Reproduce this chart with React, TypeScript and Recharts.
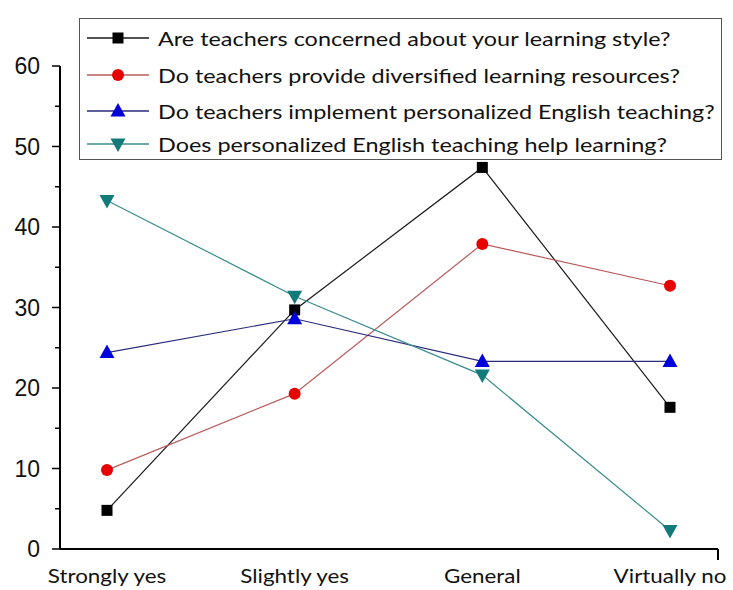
import { LineChart, Line, XAxis, YAxis } from "recharts";

const categories = ["Strongly yes", "Slightly yes", "General", "Virtually no"];
const concernedStyle = [4.8, 29.7, 47.4, 17.6];
const diversifiedResources = [9.8, 19.3, 37.9, 32.7];
const implementPersonalized = [24.4, 28.6, 23.3, 23.3];
const personalizedHelps = [43.3, 31.4, 21.6, 2.3];
const yTicks = [0, 5, 10, 15, 20, 25, 30, 35, 40, 45, 50, 55, 60];

const series = [
  { key: "concerned", label: "Are teachers concerned about your learning style?", line: "#1a1a1a", fill: "#000000", shape: "square" },
  { key: "resources", label: "Do teachers provide diversified learning resources?", line: "#b85a5a", fill: "#e60000", shape: "circle" },
  { key: "implement", label: "Do teachers implement personalized English teaching?", line: "#2a2a7a", fill: "#0000dd", shape: "up" },
  { key: "helps", label: "Does personalized English teaching help learning?", line: "#3a8c8c", fill: "#127a78", shape: "down" },
];

const data = categories.map((name, i) => ({
  name,
  concerned: concernedStyle[i],
  resources: diversifiedResources[i],
  implement: implementPersonalized[i],
  helps: personalizedHelps[i],
}));

const Marker = ({ cx, cy, shape, color }: { cx: number; cy: number; shape: string; color: string }) => {
  if (shape === "square") return <rect x={cx - 5.5} y={cy - 5.5} width={11} height={11} fill={color} />;
  if (shape === "circle") return <circle cx={cx} cy={cy} r={6} fill={color} />;
  if (shape === "up")
    return <polygon points={`${cx},${cy - 8} ${cx - 7.5},${cy + 5.5} ${cx + 7.5},${cy + 5.5}`} fill={color} />;
  return <polygon points={`${cx},${cy + 8} ${cx - 7.5},${cy - 5.5} ${cx + 7.5},${cy - 5.5}`} fill={color} />;
};

const YTick = (props: any) => {
  const { x, y, payload } = props;
  const major = payload.value % 10 === 0;
  return (
    <g>
      <line x1={60 - (major ? 8 : 5)} x2={60} y1={y} y2={y} stroke="#000" strokeWidth={1.5} />
      {major && (
        <text x={x - 12} y={y} dy={8} textAnchor="end" fontSize={23} fontFamily="Liberation Sans, Arial, sans-serif" fill="#111">
          {payload.value}
        </text>
      )}
    </g>
  );
};

// the source image is a bit stretched sideways, so the labels get a horizontal scale
const XTick = (props: any) => {
  const { x, y, payload } = props;
  return (
    <text
      transform={`translate(${x},${y + 26}) scale(1.12,1)`}
      textAnchor="middle"
      fontSize={20}
      fontFamily="Lato, sans-serif"
      fill="#111"
    >
      {payload.value}
    </text>
  );
};

const rowCenters = [19, 56, 92, 125];

const LegendBox = () => (
  <div
    style={{
      position: "absolute",
      left: 79,
      top: 18,
      width: 643,
      height: 142,
      border: "1.5px solid #555",
      background: "#fff",
      boxSizing: "border-box",
    }}
  >
    {series.map((s, i) => (
      <div
        key={s.key}
        style={{ position: "absolute", left: 0, top: rowCenters[i] - 12, height: 24, display: "flex", alignItems: "center" }}
      >
        <svg width={76} height={20} style={{ flex: "none" }}>
          <line x1={7} x2={69} y1={10} y2={10} stroke={s.line} strokeWidth={1.3} />
          <Marker cx={38} cy={10} shape={s.shape} color={s.fill} />
        </svg>
        <span
          style={{
            display: "inline-block",
            fontFamily: "Lato, sans-serif",
            fontSize: 20,
            color: "#111",
            marginLeft: 2,
            whiteSpace: "nowrap",
            transform: "scaleX(1.17)",
            transformOrigin: "left center",
          }}
        >
          {s.label}
        </span>
      </div>
    ))}
  </div>
);

export default function App() {
  return (
    <div style={{ position: "relative", width: 733, height: 590, background: "#fff" }}>
      <style>{`body{margin:0;}`}</style>
      <LineChart width={733} height={590} data={data} margin={{ top: 66, right: 15, bottom: 11, left: 0 }}>
        <XAxis
          dataKey="name"
          height={30}
          axisLine={{ stroke: "#000", strokeWidth: 2 }}
          tickLine={false}
          tick={<XTick />}
          padding={{ left: 47, right: 48 }}
          interval={0}
        />
        <YAxis
          width={60}
          domain={[0, 60]}
          ticks={yTicks}
          interval={0}
          axisLine={{ stroke: "#000", strokeWidth: 2 }}
          tickLine={false}
          tick={<YTick />}
        />
        {series.map((s) => (
          <Line
            key={s.key}
            dataKey={s.key}
            type="linear"
            stroke={s.line}
            strokeWidth={1.2}
            isAnimationActive={false}
            dot={(p: any) => <Marker key={`${s.key}-${p.index}`} cx={p.cx} cy={p.cy} shape={s.shape} color={s.fill} />}
            activeDot={false}
          />
        ))}
      </LineChart>
      <LegendBox />
      <div style={{ position: "absolute", left: 717, top: 549, width: 2, height: 11, background: "#000" }} />
    </div>
  );
}
